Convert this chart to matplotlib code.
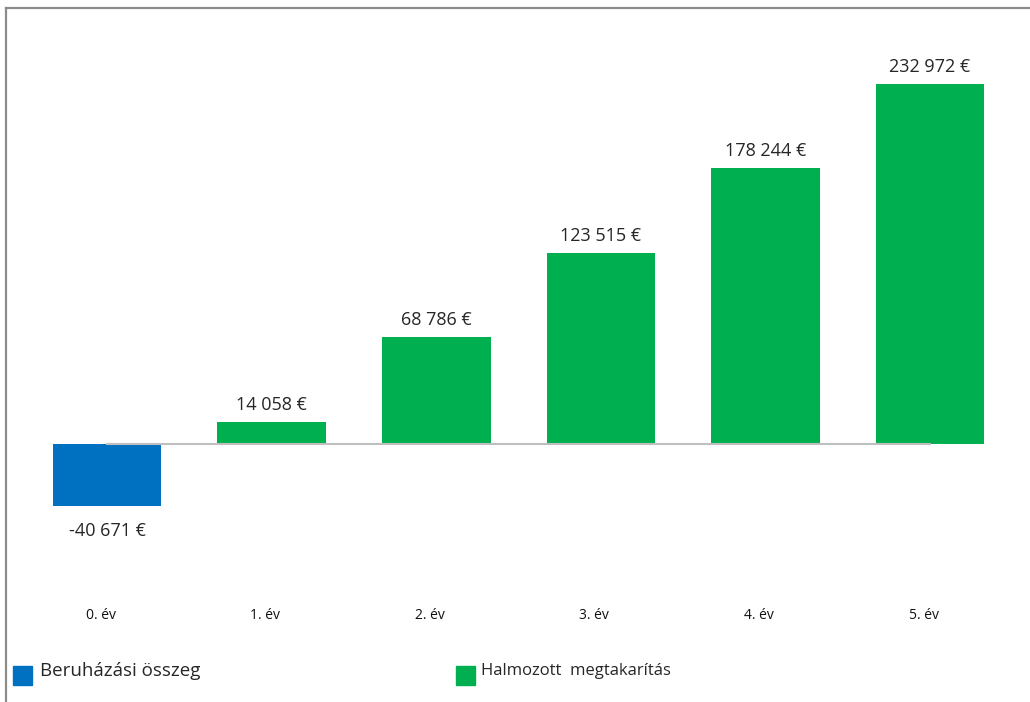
import matplotlib.pyplot as plt
from matplotlib.patches import Rectangle

plt.rcParams['font.family'] = ['Open Sans', 'DejaVu Sans']

# data
years = ["0. év", "1. év", "2. év", "3. év", "4. év", "5. év"]
values = [-40671, 14058, 68786, 123515, 178244, 232972]
value_labels = ["-40 671 €", "14 058 €", "68 786 €", "123 515 €", "178 244 €", "232 972 €"]
series_names = ["Beruházási összeg", "Halmozott  megtakarítás"]

blue = "#0070C0"
green = "#00B050"
txt = "#262626"

fig = plt.figure(figsize=(10.3, 7.02), dpi=100)
ax = fig.add_axes([6/1030, 0, 1024/1030, 694/702])

x = list(range(len(years)))
colors = [blue if v < 0 else green for v in values]
ax.bar(x, values, width=0.66, color=colors, zorder=2)

# zero line from first to last category
ax.plot([x[0], x[-1]], [0, 0], color="#BFBFBF", lw=1.5, zorder=3)

for xi, v, lab in zip(x, values, value_labels):
    off = 17 if v >= 0 else -21
    ax.annotate(lab, (xi, v * (1.06 if v < 0 else 1)), xytext=(0, off * 0.72),
                textcoords="offset points",
                ha="center", va="center", fontsize=13, color=txt)

for xi, name in zip(x, years):
    ax.text(xi - 0.04, 0.125, name, transform=ax.get_xaxis_transform(),
            ha="center", va="center", fontsize=10, color="#111111")

ax.set_xlim(-0.614, 5.607)
ax.set_ylim(-167500, 282200)
ax.set_xticks([])
ax.set_yticks([])
for s in ["right", "bottom"]:
    ax.spines[s].set_visible(False)
for s in ["top", "left"]:
    ax.spines[s].set_color("#8C8C8C")
    ax.spines[s].set_linewidth(1.6)

# legend
W, H = 1030, 702
for (lx, tx), name, c, fs in zip([(13, 40), (456, 481)], series_names,
                                 [blue, green], [13.5, 12]):
    fig.patches.append(Rectangle((lx / W, 1 - 685 / H), 19 / W, 19 / H,
                                 transform=fig.transFigure, color=c))
    fig.text(tx / W, 1 - 671 / H, name, ha="left", va="center",
             fontsize=fs, color=txt)

fig.savefig("out.png", dpi=100)
